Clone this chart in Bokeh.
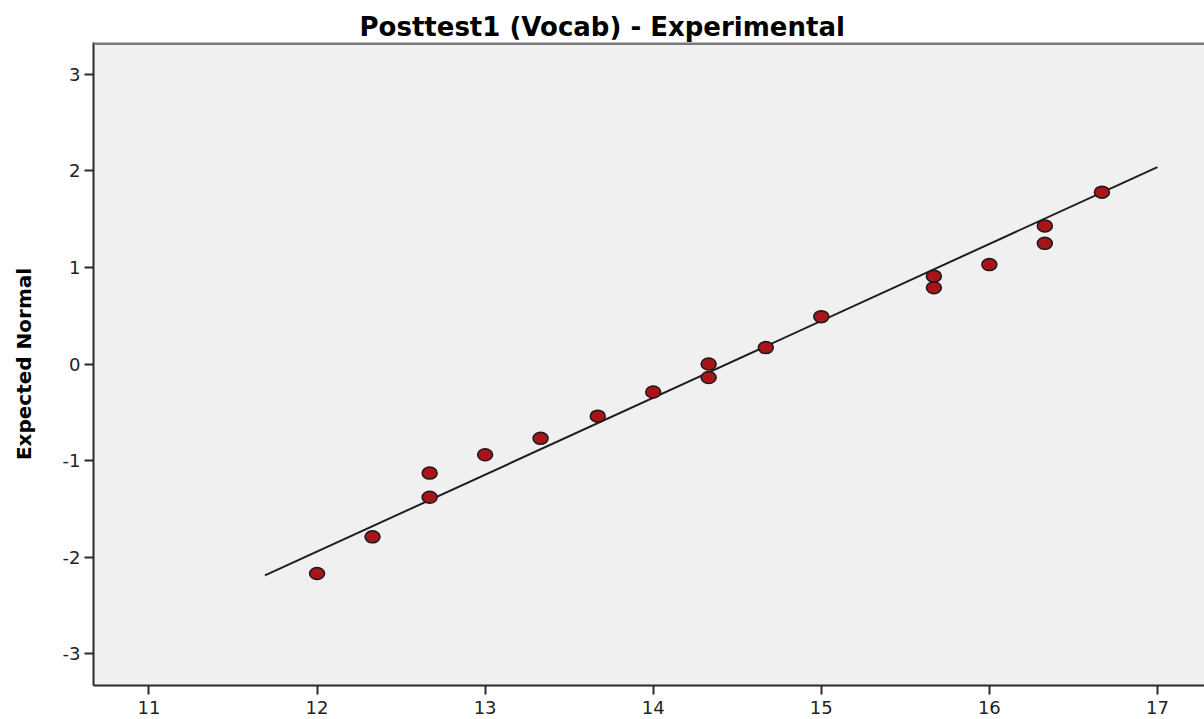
from bokeh.plotting import figure
from bokeh.models import Range1d, FixedTicker, Span, PrintfTickFormatter
from bokeh.embed import file_html
from bokeh.resources import INLINE

title_text = "Posttest1 (Vocab) - Experimental"
y_label = "Expected Normal"
x_ticks = [11, 12, 13, 14, 15, 16, 17]
y_ticks = [-3, -2, -1, 0, 1, 2, 3]

observed = [12.00, 12.33, 12.67, 12.67, 13.00, 13.33, 13.67, 14.00, 14.33,
            14.33, 14.67, 15.00, 15.67, 15.67, 16.00, 16.33, 16.33, 16.67]
expected = [-2.17, -1.79, -1.38, -1.13, -0.94, -0.77, -0.54, -0.29, -0.14,
            0.00, 0.17, 0.49, 0.79, 0.91, 1.03, 1.25, 1.43, 1.78]

line_x = [11.69, 17.0]
line_y = [-2.19, 2.04]

x_lo, x_hi = 10.67, 17.28
y_lo, y_hi = -3.33, 3.33

p = figure(width=1204, height=719, output_backend="svg", toolbar_location=None,
           x_range=Range1d(x_lo, x_hi), y_range=Range1d(y_lo, y_hi),
           min_border_left=93, min_border_right=0, min_border_top=42,
           min_border_bottom=34)

p.background_fill_color = "#F0F0F0"
p.border_fill_color = "white"
p.outline_line_color = None
p.grid.visible = False

p.title.text = title_text
p.title.text_font = "DejaVu Sans"
p.title.text_font_size = "26px"
p.title.text_font_style = "bold"
p.title.text_color = "#000000"
p.title.align = "left"
p.title.offset = 266
p.title.standoff = 2

for ax in (p.xaxis[0], p.yaxis[0]):
    ax.axis_line_color = "#2A2A2A"
    ax.axis_line_width = 2
    ax.major_tick_line_color = "#2A2A2A"
    ax.major_tick_line_width = 2
    ax.major_tick_in = 0
    ax.major_tick_out = 9
    ax.minor_tick_line_color = None
    ax.major_label_text_font = "DejaVu Sans"
    ax.major_label_text_font_size = "18px"
    ax.major_label_text_color = "#222222"
    ax.formatter = PrintfTickFormatter(format="%d")

p.xaxis.ticker = FixedTicker(ticks=x_ticks)
p.yaxis.ticker = FixedTicker(ticks=y_ticks)
p.xaxis.major_label_standoff = 6
p.yaxis.major_label_standoff = 4

p.yaxis.axis_label = y_label
p.yaxis.axis_label_text_font = "DejaVu Sans"
p.yaxis.axis_label_text_font_size = "20px"
p.yaxis.axis_label_text_font_style = "bold"
p.yaxis.axis_label_text_color = "#000000"
p.yaxis.axis_label_standoff = 24

top_border = Span(location=y_hi, dimension="width", line_color="#7A7A7A", line_width=5)
p.add_layout(top_border)

p.line(line_x, line_y, line_color="#1E1E1E", line_width=2)
p.ellipse(x=observed, y=expected, width=15, height=12,
          width_units="screen", height_units="screen",
          fill_color="#A8141A", line_color="#1A1A1A", line_width=1.5)

open("out.html", "w").write(file_html(p, INLINE))
